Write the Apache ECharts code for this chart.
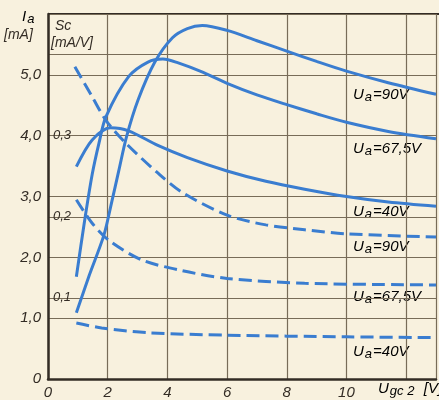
<!DOCTYPE html>
<html>
<head>
<meta charset="utf-8">
<script src="https://cdn.jsdelivr.net/npm/echarts@6/dist/echarts.min.js"></script>
<style>
  html, body { margin: 0; padding: 0; background: #f8f1de; }
  #chart { width: 439px; height: 400px; }
</style>
</head>
<body>
<div id="chart"></div>
<script>
// Ia(Ug2) curves, x = Ugc2 [V], y = Ia [mA]
const ia90 = [[0.95, 1.09], [1.38, 1.7], [1.87, 2.36], [2.14, 2.92], [2.37, 3.42], [2.63, 3.98], [3.02, 4.59], [3.58, 5.21], [4.17, 5.61], [4.67, 5.76], [5.17, 5.81], [6, 5.73], [7, 5.56], [8, 5.39], [9, 5.22], [10, 5.06], [11.4, 4.87], [13, 4.68]]
const ia67 = [[0.95, 1.68], [1.22, 2.58], [1.48, 3.36], [1.71, 3.88], [1.94, 4.31], [2.7, 4.97], [3.35, 5.21], [3.85, 5.26], [4.34, 5.2], [5.2, 5.04], [6, 4.86], [7, 4.67], [8, 4.51], [9, 4.36], [10, 4.22], [11.4, 4.07], [13, 3.95]]
const ia40 = [[0.95, 3.49], [1.48, 3.93], [2.1, 4.13], [2.7, 4.08], [3.68, 3.84], [4.67, 3.64], [6, 3.42], [7.3, 3.25], [8.6, 3.12], [10, 3.0], [11.4, 2.91], [13, 2.84]]
// Sc(Ug2) curves, y = Sc [mA/V]
const sc90 = [[0.9, 0.385], [1.48, 0.348], [1.94, 0.319], [2.6, 0.291], [3.68, 0.254], [4.5, 0.23], [6, 0.202], [7.3, 0.19], [8.6, 0.184], [10, 0.179], [13, 0.175]]
const sc67 = [[0.95, 0.221], [1.48, 0.192], [2.04, 0.171], [3.13, 0.147], [4.44, 0.134], [6, 0.124], [8.6, 0.118], [13, 0.116]]
const sc40 = [[0.95, 0.069], [1.8, 0.063], [3.36, 0.057], [6, 0.054], [10, 0.052], [13, 0.051]]

// tick labels
const xLabels = ['0', '2', '4', '6', '8', '10', '', '']
const iaLabels = ['0', '1,0', '2,0', '3,0', '4,0', '5,0', '']
const scLabels = ['', '0,1', '0,2', '0,3', '', '']
// curve labels (after the subscript)
const curveTexts = ['=90V', '=67,5V', '=40V', '=90V', '=67,5V', '=40V']

const blue = '#3a7dd0'
const ink = '#332c25'
const gridColor = '#786c58'
const font = 'Liberation Sans'

const chart = echarts.init(document.getElementById('chart'))

function solid (data) {
  return {
    type: 'line',
    data: data,
    yAxisIndex: 0,
    smooth: 0.3,
    symbol: 'none',
    lineStyle: { color: blue, width: 3 }
  }
}
function dashed (data) {
  return {
    type: 'line',
    data: data,
    yAxisIndex: 1,
    smooth: 0.3,
    symbol: 'none',
    lineStyle: { color: blue, width: 3, type: [13, 6] }
  }
}

// label: "U" + subscript "a" + rest
function uaText (rest) {
  return '{u|U}{s|a}{t|' + rest + '}'
}
const richUa = {
  u: { fontFamily: font, fontStyle: 'italic', fontSize: 15, color: ink },
  s: { fontFamily: font, fontStyle: 'italic', fontSize: 13, color: ink, padding: [6, 1, 0, 1] },
  t: { fontFamily: font, fontStyle: 'italic', fontSize: 15, color: ink }
}
const labelTops = [87, 141, 204, 239, 289, 344]

const option = {
  backgroundColor: '#f8f1de',
  animation: false,
  grid: { left: 48, top: 14, right: -4.5, bottom: 21 },
  xAxis: {
    type: 'value',
    min: 0,
    max: 13,
    interval: 2,
    axisLine: { lineStyle: { color: ink, width: 2.5 } },
    axisTick: { show: false },
    splitLine: {
      show: true,
      lineStyle: { color: gridColor, width: 1.2 }
    },
    axisLabel: {
      margin: 6,
      fontFamily: font,
      fontStyle: 'italic',
      fontSize: 15,
      color: ink,
      formatter: v => (v % 2 === 0 ? xLabels[v / 2] : '')
    }
  },
  yAxis: [
    {
      type: 'value',
      min: 0,
      max: 6,
      interval: 1,
      axisLine: { show: true, lineStyle: { color: ink, width: 2.5 } },
      axisTick: { show: false },
      splitLine: { lineStyle: { color: gridColor, width: 1.2 } },
      axisLabel: {
        margin: 7,
        fontFamily: font,
        fontStyle: 'italic',
        fontSize: 15,
        color: ink,
        formatter: v => iaLabels[Math.round(v)]
      }
    },
    {
      type: 'value',
      position: 'left',
      min: 0,
      max: 0.45,
      interval: 0.1,
      axisLine: { show: false },
      axisTick: { show: false },
      splitLine: { show: true, lineStyle: { color: gridColor, width: 1.2 } },
      axisLabel: {
        inside: true,
        margin: 5,
        fontFamily: font,
        fontStyle: 'italic',
        fontSize: 13,
        color: ink,
        formatter: v => scLabels[Math.round(v * 10)] || ''
      }
    }
  ],
  graphic: [
    // top frame line
    { type: 'line', shape: { x1: 48, y1: 14, x2: 439, y2: 14 }, style: { stroke: ink, lineWidth: 2 } },
    { type: 'text', left: 22, top: 9, style: { text: '{u|I}{s|a}', rich: richUa } },
    { type: 'text', left: 4, top: 28, style: { text: '[mA]', font: 'italic 14px ' + font, fill: ink } },
    { type: 'text', left: 55, top: 19, style: { text: 'Sc', font: 'italic 14px ' + font, fill: ink } },
    { type: 'text', left: 51, top: 36, style: { text: '[mA/V]', font: 'italic 14px ' + font, fill: ink } },
    {
      type: 'text',
      left: 378,
      top: 381,
      style: {
        text: '{u|U}{s|gc 2}{t|  [V]}',
        rich: richUa
      }
    }
  ].concat(curveTexts.map((t, i) => ({
    type: 'text',
    left: 353,
    top: labelTops[i],
    style: { text: uaText(t), rich: richUa }
  }))),
  series: [
    solid(ia90),
    solid(ia67),
    solid(ia40),
    dashed(sc90),
    dashed(sc67),
    dashed(sc40)
  ]
}

chart.setOption(option)
</script>
</body>
</html>
